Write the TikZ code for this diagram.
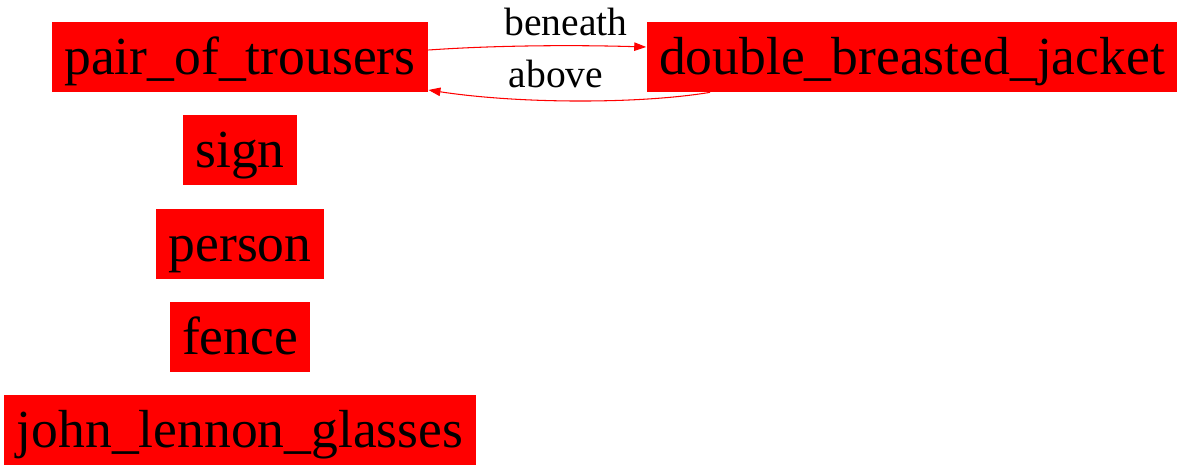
\documentclass[tikz,border=0pt]{standalone}
\usepackage{fontspec}
\setmainfont{Liberation Serif}
\usetikzlibrary{arrows.meta,positioning}
\definecolor{boxred}{RGB}{255,0,0}

\begin{document}
\begin{tikzpicture}[
    x=0.02cm, y=-0.02cm,
    obj/.style={rectangle, fill=boxred, minimum height=1.4cm, inner xsep=0.25cm, inner ysep=0pt,
        text height=0.95cm, text depth=0.25cm, font=\fontsize{30.5}{36}\selectfont},
    rel/.style={-{Triangle[length=0.24cm,width=0.17cm]}, draw=boxred, line width=0.6pt},
    lbl/.style={font=\fontsize{22.5}{26}\selectfont, inner sep=1pt}
]
\useasboundingbox (0,0) rectangle (1183,471);

% objects
\node[obj] (trousers) at (240,57) {pair\_of\_trousers};
\node[obj] (jacket) at (912,57) {double\_breasted\_jacket};
\node[obj] (sign) at (240,150) {sign};
\node[obj] (person) at (240,244) {person};
\node[obj] (fence) at (240,337) {fence};
\node[obj] (glasses) at (240,430) {john\_lennon\_glasses};

% relations
\draw[rel] ([yshift=0.14cm]trousers.east) .. controls (500,45) and (580,45) .. ([yshift=0.2cm]jacket.west)
    node[lbl, pos=0.62, above=0.16cm] (beneath) {beneath};
\draw[rel] ([xshift=-4.04cm]jacket.south) .. controls (640,104) and (520,104) .. ([yshift=-0.66cm]trousers.east)
    node[lbl, pos=0.57, above=0.2cm] (above) {above};
\end{tikzpicture}
\end{document}
